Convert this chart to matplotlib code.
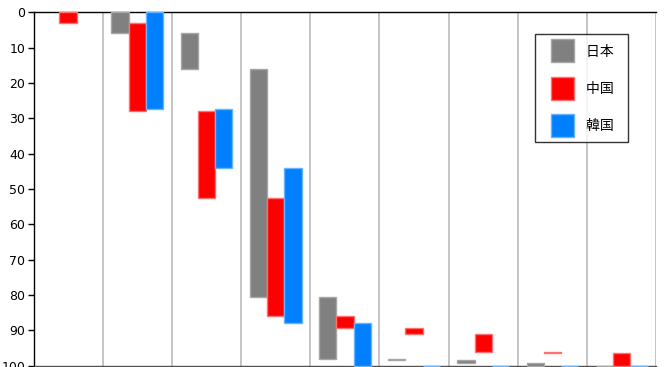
import matplotlib
matplotlib.use("Agg")
import matplotlib.pyplot as plt
from matplotlib.patches import Patch, Rectangle
from matplotlib.legend_handler import HandlerPatch
import numpy as np

plt.rcParams['font.family'] = ['Noto Sans CJK JP', 'DejaVu Sans']

# data: share (%) of each of the 9 consecutive classes, drawn as floating (cumulative) bars
categories = ["1", "2", "3", "4", "5", "6", "7", "8", "9"]
series_names = ["日本", "中国", "韓国"]
japan = [0.0, 5.8, 10.2, 64.7, 17.5, 0.2, 0.8, 0.8, 0.0]
china = [2.9, 25.1, 24.6, 33.2, 3.4, 1.9, 5.1, 0.3, 3.5]
korea = [0.0, 27.5, 16.6, 43.8, 12.1, 0.0, 0.0, 0.0, 0.0]
yticks = [0, 10, 20, 30, 40, 50, 60, 70, 80, 90, 100]

colors = ["#808080", "#ff0000", "#0080ff"]
edges = ["#a6a6a6", "#ff7070", "#66b3ff"]

fig = plt.figure(figsize=(6.66, 3.67), dpi=100)
ax = fig.add_axes([33.5/666, 1-365.7/367, (656.3-33.5)/666, (365.7-12.3)/367])

n = len(categories)
x = np.arange(n)
w = 0.25
for k, (vals, c, ec, name) in enumerate(zip([japan, china, korea], colors, edges, series_names)):
    vals = np.array(vals)
    bottoms = np.concatenate([[0], np.cumsum(vals)[:-1]])
    keep = ~((vals == 0) & (bottoms == 0))
    ax.bar((x + 0.25 + k*w)[keep], vals[keep], width=w, bottom=bottoms[keep], color=c,
           edgecolor=ec, linewidth=1.0, label=name, zorder=4, clip_on=False)

ax.set_xlim(0, n)
ax.set_ylim(100, 0)
ax.set_yticks(yticks)
ax.set_yticklabels([str(v) for v in yticks], fontsize=9, family='DejaVu Sans')
ax.set_xticks([])
for xi in range(1, n+1):
    ax.axvline(xi, color="#c4c4c4", linewidth=1.4, zorder=1)

ax.tick_params(axis='y', direction='out', length=4, width=1, pad=2, colors='black')
ax.spines['left'].set_color('black')
ax.spines['top'].set_color('black')
ax.spines['bottom'].set_color('#505050')
ax.spines['right'].set_visible(False)
for s in ['left', 'top', 'bottom']:
    ax.spines[s].set_linewidth(1.0)
    ax.spines[s].set_zorder(3)

fs = 10
pt = 72/100.0  # points per pixel
patch_px = 23
offset_pt = 8 * pt

class ShiftedPatch(HandlerPatch):
    def create_artists(self, legend, orig_handle, xdescent, ydescent, width, height, fontsize, trans):
        side = patch_px * pt
        r = Rectangle((-xdescent + offset_pt, -ydescent + (height - side)/2), side, side,
                      facecolor=orig_handle.get_facecolor(), edgecolor=orig_handle.get_edgecolor(),
                      linewidth=1.0, transform=trans)
        return [r]

handles = [Patch(facecolor=c, edgecolor=ec) for c, ec in zip(colors, edges)]
leg = fig.legend(handles, [s + "  " for s in series_names], loc='upper left',
                 bbox_to_anchor=(535.3/666, 1-34.3/367), bbox_transform=fig.transFigure,
                 borderaxespad=0, fontsize=fs, frameon=True, fancybox=False,
                 handlelength=(offset_pt + patch_px*pt)/fs, handleheight=patch_px*pt/fs,
                 labelspacing=(42-23)*pt/fs, handletextpad=12.5*pt/fs, borderpad=7.5*pt/fs,
                 handler_map={Patch: ShiftedPatch()})
leg.get_frame().set_edgecolor('black')
leg.get_frame().set_linewidth(1.0)

fig.savefig("out.png", dpi=100)
